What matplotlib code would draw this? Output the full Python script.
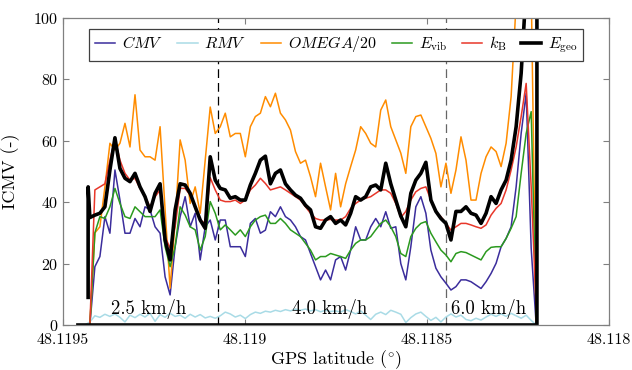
import numpy as np
import matplotlib
matplotlib.use("Agg")
import matplotlib.pyplot as plt

plt.rcParams["font.family"] = ["cmr10", "DejaVu Serif"]
plt.rcParams["mathtext.fontset"] = "cm"
plt.rcParams["axes.formatter.use_mathtext"] = True

# common latitude grid of the measurement run (deg)
lat = np.linspace(48.11944, 48.11820, 91)

cmv = [0, 0, 19, 22.3, 35.3, 29.9, 50.5, 40.7, 29.9, 29.9,
       34.7, 32, 38.5, 37.5, 32, 29.9, 15.7, 9.8, 25.5, 35.3,
       41.8, 32, 36.4, 21.2, 32, 34.2, 27.7, 34.2, 34.2, 25.5,
       25.5, 25.5, 22.3, 33.1, 34.7, 29.9, 30.9, 36.9, 35.3, 38.5,
       35.3, 34.2, 32, 28.8, 27.7, 23.3, 19, 14.7, 17.9, 14.7,
       21.2, 22.3, 17.9, 24.4, 32, 27.7, 27.7, 32, 34.7, 32,
       36.9, 31.5, 32, 20, 14.7, 25.5, 38.5, 41.8, 36.4, 24.4,
       18.5, 15.7, 13.6, 11.4, 12.5, 14.7, 14.7, 14.1, 13, 11.9,
       14.1, 16.8, 20.1, 25.5, 28.2, 32, 45, 62.4, 75.5, 25,
       0]

rmv = [0, 1, 3, 2.5, 3.5, 2.8, 3.6, 2.5, 1, 3.2,
       2.4, 3.5, 2.6, 3.8, 1.2, 3.4, 2.5, 3.8, 2.8, 3.2,
       2.2, 3.5, 2.6, 3.4, 2.3, 2.8, 2.2, 3, 4.2, 3.6,
       2.6, 3.2, 2.1, 3.4, 4.2, 3.8, 4.5, 4.2, 4.8, 4.4,
       5, 4.6, 5.2, 4.8, 5.2, 4.6, 5, 4.3, 4.8, 4.4,
       4.6, 4.2, 5, 4.4, 3.6, 4.6, 3.2, 1.8, 3.5, 4.2,
       3.4, 4.8, 4.2, 3.5, 0.8, 2.4, 3.6, 4.2, 2.8, 1.5,
       2.5, 1, 2.6, 3.6, 2.6, 3.2, 1.8, 1.4, 2.2, 1.6,
       2.6, 3.5, 2.8, 3.6, 2.8, 3.8, 3, 2.2, 3.2, 1.5,
       0]

omega20 = [0, 0, 30, 32, 45, 59.2, 57, 59.2, 65.7, 58,
           75, 57, 54.8, 54.8, 53.7, 64.6, 37.5, 12, 33.7, 60.3,
           53.7, 39.6, 45, 36.4, 53.7, 71, 62.4, 64.6, 69, 61.3,
           62.4, 62.4, 54.8, 64.6, 67.9, 69, 74.4, 71.1, 75.5, 69,
           66.8, 63.5, 56.5, 52.7, 53.7, 48.3, 41.8, 52.7, 45, 37.5,
           49.4, 38.5, 46, 51.6, 57, 64.6, 62.4, 59.2, 58, 70,
           73.3, 64.6, 60.3, 56, 49.4, 64.6, 67.9, 68.4, 64.6, 60.8,
           55.9, 45, 52.7, 42.9, 50.5, 61.3, 53.7, 40.7, 40.7, 49.4,
           54.8, 58, 56.5, 51.6, 59.2, 74.4, 105, 110, 110, 110,
           0]

e_vib = [0, 0, 30, 35.3, 34.7, 38.5, 44.5, 39.6, 35.3, 34.7,
         38.5, 36.9, 35.3, 35.3, 35.3, 37.5, 25.5, 19, 25.5, 38.5,
         35.8, 32, 31, 24.4, 28.8, 40.2, 36.4, 31, 32.6, 31,
         29.3, 31, 28.8, 32, 34.2, 35.3, 35.8, 33.1, 33.1, 34.7,
         33.1, 31, 29.9, 28.8, 26.6, 24.4, 21.2, 22.3, 22.3, 23.3,
         22.8, 22.3, 21.7, 24.4, 26.6, 27.7, 27.7, 28.8, 31, 33.1,
         34.2, 32, 28.8, 23.3, 22.3, 28.8, 31.5, 33.1, 33.7, 29.9,
         27.1, 24.4, 22.8, 20.6, 23.3, 23.9, 23.6, 22.8, 22, 21.2,
         23.9, 25.3, 25.5, 25.5, 28.2, 31.5, 35.3, 49.4, 62.4, 69.5,
         3]

k_b = [0, 0, 44, 45, 46, 53.7, 60.8, 53.7, 49.4, 47.2,
       47.8, 44.5, 41.8, 38.5, 41.8, 44, 28.8, 25, 32, 44.5,
       44.5, 42.3, 38.5, 34.2, 33.1, 48, 44, 40.7, 40.2, 40.2,
       40.7, 39.6, 40.7, 44, 45.6, 47.8, 46.1, 44, 44.5, 45,
       44, 42.9, 41.8, 40.7, 38.5, 36.4, 34.7, 34.2, 34.2, 34.4,
       34.2, 34.2, 35.3, 38, 39.6, 40.7, 41.3, 41.8, 42.9, 44,
       44, 42.9, 39.6, 35, 37, 40.7, 43.4, 44.5, 45, 40.7,
       37, 35.3, 33.1, 30.9, 32, 33.1, 33.1, 32.6, 32, 31.5,
       32.6, 35.8, 38, 39.6, 44, 50.5, 58, 67.9, 78.7, 45,
       5]

e_geo = [np.nan, 35, 35.8, 36.4, 38.5, 50.5, 61, 51, 47.8, 46.7,
         49.4, 45, 41.8, 37, 42.9, 46, 27.7, 21.2, 37.5, 46,
         45.6, 42.9, 38.5, 34.2, 31.5, 54.8, 47.2, 44.5, 44, 41.3,
         41.8, 40.7, 40.7, 45.6, 49.4, 53.7, 55, 46, 49.4, 50.5,
         46, 44, 42.3, 41.3, 39, 37.5, 32, 31.5, 34.2, 35.3,
         33.1, 34.2, 32.6, 36.4, 41.8, 40.7, 41.8, 45, 45.6, 44,
         52.7, 46, 40.7, 35.5, 32, 42.9, 47.2, 49.4, 53, 40.7,
         37, 34.7, 33.1, 27.7, 37, 37, 38.5, 36.4, 35.8, 33.1,
         36.4, 41.8, 39.6, 44, 47.2, 53.7, 64.6, 82, 110, 110,
         110]

# start / end of the E_geo trace (vertical jump and return along zero)
geo_head_lat = [48.119431, 48.119431]
geo_head_val = [9, 45]
geo_tail_lat = [48.118198, 48.118198, 48.119459]
geo_tail_val = [110, 0, 0]

speed_changes = [48.119074, 48.118448]
speed_labels = ["2.5 km/h", "4.0 km/h", "6.0 km/h"]
speed_label_lat = [48.119266, 48.118767, 48.118330]

fig = plt.figure(figsize=(6.32, 3.7), dpi=100)
ax = fig.add_axes([0.0997, 0.1216, 0.8639, 0.8297])

ax.plot(lat, cmv, color="#3b2d9c", lw=1.1, label=r"$CMV$")
ax.plot(lat, rmv, color="#a9dbe6", lw=1.1, label=r"$RMV$")
ax.plot(lat, omega20, color="#ff8c00", lw=1.1, label=r"$OMEGA/20$")
ax.plot(lat, e_vib, color="#2b9a1f", lw=1.1, label=r"$E_{\mathrm{vib}}$")
ax.plot(lat, k_b, color="#e8372a", lw=1.1, label=r"$k_{\mathrm{B}}$")

geo_lat = np.concatenate([geo_head_lat, lat[1:], geo_tail_lat])
geo_val = np.concatenate([geo_head_val, e_geo[1:], geo_tail_val])
ax.plot(geo_lat, geo_val, color="black", lw=2.6, label=r"$E_{\mathrm{geo}}$")

ax.axvline(speed_changes[0], color="black", lw=0.9, ls=(0, (7, 4)), zorder=1)
ax.axvline(speed_changes[1], color="#666666", lw=0.9, ls=(0, (7, 4)), zorder=1)

for t, x in zip(speed_labels, speed_label_lat):
    ax.text(x, 5.2, t, ha="center", va="center", fontsize=13.5)

ax.set_xlim(48.1195, 48.118)
ax.set_ylim(0, 100)
ax.set_xticks([48.1195, 48.119, 48.1185, 48.118])
ax.set_xticklabels(["48.1195", "48.119", "48.1185", "48.118"])
ax.set_yticks([0, 20, 40, 60, 80, 100])

ax.tick_params(direction="in", length=4, width=0.8, color="#808080",
               labelsize=11.5, top=True, right=True)
ax.tick_params(axis="x", pad=6)
ax.tick_params(axis="y", pad=3)
for s in ax.spines.values():
    s.set_color("#808080")
    s.set_linewidth(0.9)

ax.set_xlabel(r"GPS latitude ($^{\circ}$)", fontsize=13, labelpad=1)
ax.set_ylabel("ICMV (-)", fontsize=13, labelpad=10)

leg = ax.legend(loc="upper center", bbox_to_anchor=(0.5, 0.965), ncol=6,
                fontsize=11.5, frameon=True, fancybox=False, framealpha=1,
                edgecolor="#404040", handlelength=1.3, handletextpad=0.4,
                columnspacing=0.9, borderpad=0.35, borderaxespad=0)
leg.get_frame().set_linewidth(0.9)

fig.savefig("out.png", dpi=100)
